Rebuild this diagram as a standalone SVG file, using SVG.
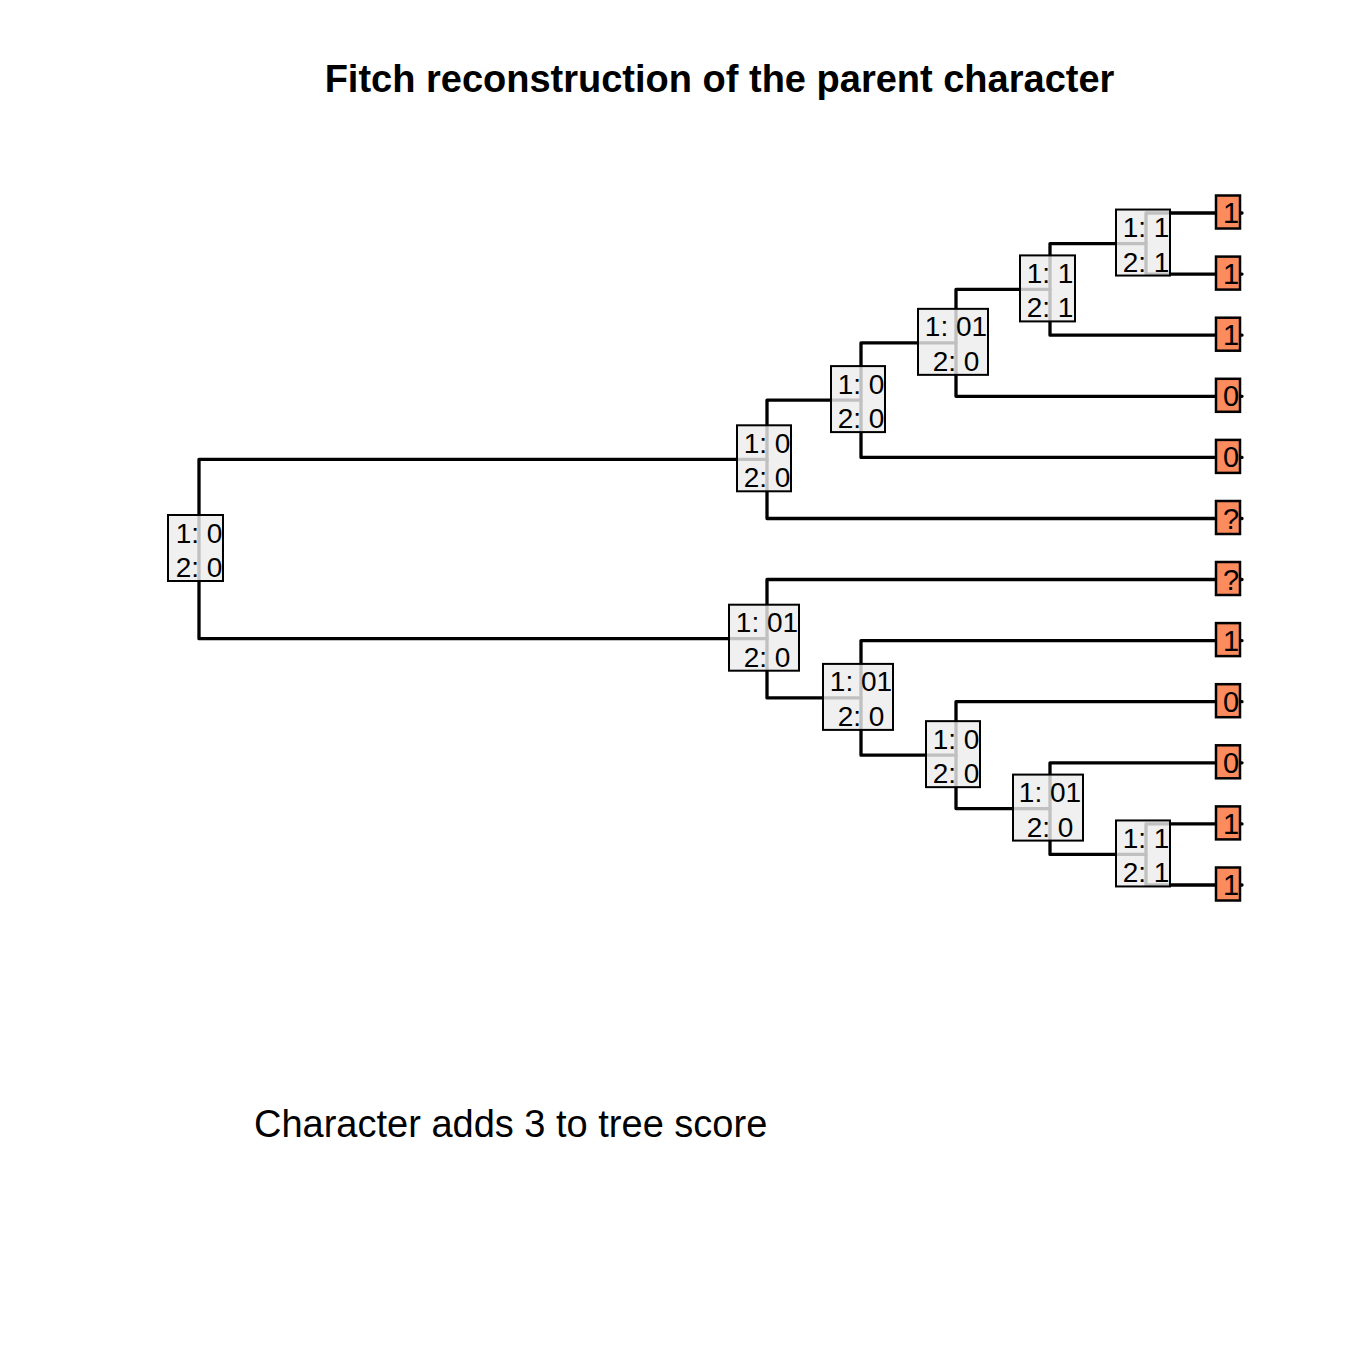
<svg xmlns="http://www.w3.org/2000/svg" width="1363" height="1363" viewBox="0 0 1363 1363">
<style>
  .edge { fill: none; stroke: #000; stroke-width: 3.3; stroke-linejoin: round; stroke-linecap: round; }
  .nbox { fill: rgb(236,236,236); fill-opacity: 0.81; stroke: #000; stroke-width: 2; }
  .lbox { fill: #FC8B5E; stroke: #000; stroke-width: 2.5; }
  .lab { font-family: "Liberation Sans", Arial, sans-serif; font-size: 28px; fill: #000; text-anchor: middle; }
  .tlab { font-family: "Liberation Sans", Arial, sans-serif; font-size: 29px; fill: #000; text-anchor: middle; }
  .title { font-family: "Liberation Sans", Arial, sans-serif; font-size: 38px; font-weight: bold; fill: #000; text-anchor: middle; }
  .foot { font-family: "Liberation Sans", Arial, sans-serif; font-size: 38px; fill: #000; }
</style>
<rect x="0" y="0" width="1363" height="1363" fill="#fff"/>
<text class="title" x="719.5" y="92">Fitch reconstruction of the parent character</text>

<g id="connectors">
  <path class="edge" d="M767 459.3 H199 V638.7 H767"/>
  <path class="edge" d="M861 400.1 H767 V518.5 H1242"/>
  <path class="edge" d="M956 342.85 H861 V457.4 H1242"/>
  <path class="edge" d="M1050 289.4 H956 V396.3 H1242"/>
  <path class="edge" d="M1146 243.55 H1050 V335.2 H1242"/>
  <path class="edge" d="M1242 213 H1146 V274.1 H1242"/>
  <path class="edge" d="M1242 579.5 H767 V697.9 H861"/>
  <path class="edge" d="M1242 640.6 H861 V755.15 H956"/>
  <path class="edge" d="M1242 701.7 H956 V808.6 H1050"/>
  <path class="edge" d="M1242 762.8 H1050 V854.45 H1146"/>
  <path class="edge" d="M1242 823.9 H1146 V885 H1242"/>
</g>

<g id="node-root">
  <rect class="nbox" x="168" y="515" width="55" height="66"/>
  <text class="lab" x="199" y="542.5">1: 0</text>
  <text class="lab" x="199" y="577">2: 0</text>
</g>
<g id="node-u1">
  <rect class="nbox" x="737" y="425.3" width="54" height="66"/>
  <text class="lab" x="767" y="452.8">1: 0</text>
  <text class="lab" x="767" y="487.3">2: 0</text>
</g>
<g id="node-u2">
  <rect class="nbox" x="831" y="366.1" width="54" height="66"/>
  <text class="lab" x="861" y="393.6">1: 0</text>
  <text class="lab" x="861" y="428.1">2: 0</text>
</g>
<g id="node-u3">
  <rect class="nbox" x="918" y="308.85" width="70" height="66"/>
  <text class="lab" x="956" y="336.35">1: 01</text>
  <text class="lab" x="956" y="370.85">2: 0</text>
</g>
<g id="node-u4">
  <rect class="nbox" x="1020" y="255.4" width="55" height="66"/>
  <text class="lab" x="1050" y="282.9">1: 1</text>
  <text class="lab" x="1050" y="317.4">2: 1</text>
</g>
<g id="node-u5">
  <rect class="nbox" x="1116" y="209.55" width="54" height="66"/>
  <text class="lab" x="1146" y="237.05">1: 1</text>
  <text class="lab" x="1146" y="271.55">2: 1</text>
</g>
<g id="node-l1">
  <rect class="nbox" x="729" y="604.7" width="70" height="66"/>
  <text class="lab" x="767" y="632.2">1: 01</text>
  <text class="lab" x="767" y="666.7">2: 0</text>
</g>
<g id="node-l2">
  <rect class="nbox" x="823" y="663.9" width="70" height="66"/>
  <text class="lab" x="861" y="691.4">1: 01</text>
  <text class="lab" x="861" y="725.9">2: 0</text>
</g>
<g id="node-l3">
  <rect class="nbox" x="926" y="721.15" width="54" height="66"/>
  <text class="lab" x="956" y="748.65">1: 0</text>
  <text class="lab" x="956" y="783.15">2: 0</text>
</g>
<g id="node-l4">
  <rect class="nbox" x="1013" y="774.6" width="70" height="66"/>
  <text class="lab" x="1050" y="802.1">1: 01</text>
  <text class="lab" x="1050" y="836.6">2: 0</text>
</g>
<g id="node-l5">
  <rect class="nbox" x="1116" y="820.45" width="54" height="66"/>
  <text class="lab" x="1146" y="847.95">1: 1</text>
  <text class="lab" x="1146" y="882.45">2: 1</text>
</g>

<g id="tip-1"><rect class="lbox" x="1216" y="195.5" width="24" height="33"/><text class="tlab" x="1231" y="223">1</text></g>
<g id="tip-2"><rect class="lbox" x="1216" y="256.6" width="24" height="33"/><text class="tlab" x="1231" y="284.1">1</text></g>
<g id="tip-3"><rect class="lbox" x="1216" y="317.7" width="24" height="33"/><text class="tlab" x="1231" y="345.2">1</text></g>
<g id="tip-4"><rect class="lbox" x="1216" y="378.8" width="24" height="33"/><text class="tlab" x="1231" y="406.3">0</text></g>
<g id="tip-5"><rect class="lbox" x="1216" y="439.9" width="24" height="33"/><text class="tlab" x="1231" y="467.4">0</text></g>
<g id="tip-6"><rect class="lbox" x="1216" y="501" width="24" height="33"/><text class="tlab" x="1231" y="528.5">?</text></g>
<g id="tip-7"><rect class="lbox" x="1216" y="562" width="24" height="33"/><text class="tlab" x="1231" y="589.5">?</text></g>
<g id="tip-8"><rect class="lbox" x="1216" y="623.1" width="24" height="33"/><text class="tlab" x="1231" y="650.6">1</text></g>
<g id="tip-9"><rect class="lbox" x="1216" y="684.2" width="24" height="33"/><text class="tlab" x="1231" y="711.7">0</text></g>
<g id="tip-10"><rect class="lbox" x="1216" y="745.3" width="24" height="33"/><text class="tlab" x="1231" y="772.8">0</text></g>
<g id="tip-11"><rect class="lbox" x="1216" y="806.4" width="24" height="33"/><text class="tlab" x="1231" y="833.9">1</text></g>
<g id="tip-12"><rect class="lbox" x="1216" y="867.5" width="24" height="33"/><text class="tlab" x="1231" y="895">1</text></g>

<text class="foot" x="254" y="1137">Character adds 3 to tree score</text>
</svg>
